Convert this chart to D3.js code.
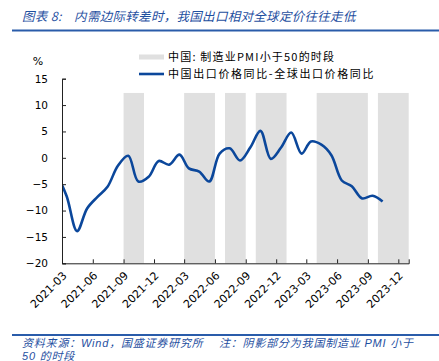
<!DOCTYPE html>
<html>
<head>
<meta charset="utf-8">
<script src="https://cdn.jsdelivr.net/npm/d3@7"></script>
<style>
  body { margin: 0; background: #fff; }
  text { white-space: pre; }
</style>
</head>
<body>
<script>
// monthly values (plotted mid-month)
const months = ['2021-02', '2021-03', '2021-04', '2021-05', '2021-06', '2021-07', '2021-08', '2021-09',
  '2021-10', '2021-11', '2021-12', '2022-01', '2022-02', '2022-03', '2022-04', '2022-05', '2022-06',
  '2022-07', '2022-08', '2022-09', '2022-10', '2022-11', '2022-12', '2023-01', '2023-02', '2023-03',
  '2023-04', '2023-05', '2023-06', '2023-07', '2023-08', '2023-09', '2023-10'];
const spread = [-3.2, -7.3, -13.9, -9.6, -7.4, -5.5, -1.5, 0.4,
  -4.5, -3.6, -0.6, -1.3, 0.6, -2.0, -2.6, -4.5, 0.8,
  1.8, -0.5, 2.0, 5.1, -0.2, 1.9, 4.8, 0.8, 3.1,
  2.5, 0.5, -4.3, -5.4, -7.7, -7.2, -8.3];

// PMI < 50 periods: [first month, month after last]
const pmiStart = ['2021-09', '2022-03', '2022-07', '2022-10', '2023-04', '2023-10'];
const pmiEnd = ['2021-11', '2022-06', '2022-09', '2023-01', '2023-09', '2024-01'];
const shadeTop = 12.3;

const yTicks = [15, 10, 5, 0, -5, -10, -15, -20];
const xTickMonths = ['2021-03', '2021-06', '2021-09', '2021-12', '2022-03', '2022-06', '2022-09',
  '2022-12', '2023-03', '2023-06', '2023-09', '2023-12'];

const title = '图表 8:    内需边际转差时，我国出口相对全球定价往往走低';
const legendShade = '中国: 制造业PMI小于50的时段';
const legendLine = '中国出口价格同比-全球出口价格同比';
const sourceLines = ['资料来源：Wind，国盛证券研究所    注：阴影部分为我国制造业 PMI 小于', '50 的时段'];

const W = 439;
const H = 361;
const blue = '#1f4f9f';
const parseM = d3.timeParse('%Y-%m');
const midMonth = (m) => d3.timeDay.offset(parseM(m), 14);

const svg = d3.select('body').append('svg')
  .attr('width', W)
  .attr('height', H)
  .style('font-family', "'DejaVu Sans', sans-serif");

const x = d3.scaleTime()
  .domain([parseM('2021-03'), parseM('2024-01')])
  .range([62, 408.7]);
const y = d3.scaleLinear()
  .domain([-20, 15])
  .range([263.3, 78.7]);

// title + rule
svg.append('text')
  .attr('x', 22)
  .attr('y', 20.5)
  .text(title)
  .style('font', "italic 12.5px 'Noto Sans CJK SC'")
  .style('letter-spacing', '0.3px')
  .style('fill', blue);
svg.append('line')
  .attr('x1', 12).attr('x2', W)
  .attr('y1', 30.5).attr('y2', 30.5)
  .attr('stroke', '#2a5caa')
  .attr('stroke-width', 2);

// shaded periods
svg.append('g').selectAll('rect')
  .data(pmiStart.map((s, i) => ({s: parseM(s), e: parseM(pmiEnd[i])})))
  .join('rect')
  .attr('x', (d) => x(d.s))
  .attr('width', (d) => x(d.e) - x(d.s))
  .attr('y', y(shadeTop))
  .attr('height', y(-20) - y(shadeTop))
  .attr('fill', '#e0e0e0');

// line
svg.append('clipPath').attr('id', 'plot')
  .append('rect')
  .attr('x', 62).attr('y', 70)
  .attr('width', 350).attr('height', 200);

const line = d3.line()
  .x((d) => x(midMonth(d.m)))
  .y((d) => y(d.v))
  .curve(d3.curveCatmullRom.alpha(0.5));

svg.append('path')
  .datum(months.map((m, i) => ({m, v: spread[i]})))
  .attr('clip-path', 'url(#plot)')
  .attr('d', line)
  .attr('fill', 'none')
  .attr('stroke', '#0b479b')
  .attr('stroke-width', 2.6)
  .attr('stroke-linejoin', 'round');

// y axis
const yAxis = svg.append('g')
  .attr('transform', 'translate(62,0)')
  .call(d3.axisLeft(y).tickValues(yTicks).tickSize(-4).tickPadding(14));
yAxis.select('.domain').attr('stroke', '#222');
yAxis.selectAll('.tick line').attr('stroke', '#222');
yAxis.selectAll('text')
  .style('font-size', '10.5px')
  .style('font-family', "'DejaVu Sans', sans-serif")
  .attr('fill', '#000');

svg.append('text')
  .attr('x', 38)
  .attr('y', 65)
  .attr('text-anchor', 'middle')
  .text('%')
  .style('font-size', '11px')
  .style('fill', '#000');

// x axis
const xAxis = svg.append('g')
  .attr('transform', `translate(0,${y(-20)})`)
  .call(d3.axisBottom(x).tickValues(xTickMonths.map(parseM)).tickSize(-4)
    .tickFormat(d3.timeFormat('%Y-%m')));
xAxis.select('.domain').attr('stroke', '#222');
xAxis.selectAll('.tick line').attr('stroke', '#222');
xAxis.selectAll('text')
  .style('font-size', '11px')
  .style('font-family', "'DejaVu Sans', sans-serif")
  .attr('fill', '#000')
  .attr('text-anchor', 'end')
  .attr('dy', null)
  .attr('y', 0)
  .attr('transform', 'translate(5,13) rotate(-45)');

// legend
svg.append('rect')
  .attr('x', 139).attr('y', 54.5)
  .attr('width', 25).attr('height', 5)
  .attr('fill', '#e0e0e0');
svg.append('line')
  .attr('x1', 139).attr('x2', 164)
  .attr('y1', 74).attr('y2', 74)
  .attr('stroke', '#0b479b')
  .attr('stroke-width', 2.6);
svg.append('text')
  .attr('x', 168).attr('y', 61)
  .text(legendShade)
  .style('font', "11px 'Noto Sans CJK SC'")
  .style('letter-spacing', '1.2px');
svg.append('text')
  .attr('x', 168).attr('y', 78)
  .text(legendLine)
  .style('font', "11px 'Noto Sans CJK SC'")
  .style('letter-spacing', '1.6px');

// source
svg.append('line')
  .attr('x1', 12).attr('x2', W)
  .attr('y1', 335).attr('y2', 335)
  .attr('stroke', '#2a5caa')
  .attr('stroke-width', 2);
svg.append('g').selectAll('text')
  .data(sourceLines)
  .join('text')
  .attr('x', 22)
  .attr('y', (d, i) => 346.5 + i * 13)
  .text((d) => d)
  .style('font', "italic 11px 'Liberation Sans', 'Noto Sans CJK SC'")
  .style('letter-spacing', '0.8px')
  .style('fill', blue);
</script>
</body>
</html>
